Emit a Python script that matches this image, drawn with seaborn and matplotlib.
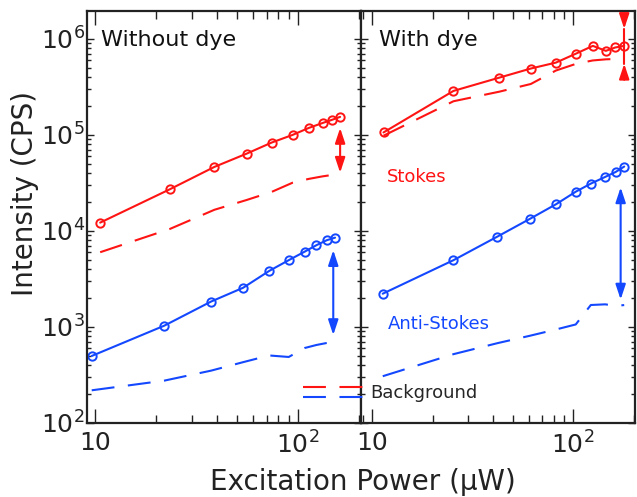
import numpy as np
import pandas as pd
import matplotlib
matplotlib.use("Agg")
import matplotlib.pyplot as plt
import seaborn as sns
from matplotlib.lines import Line2D
from matplotlib.legend_handler import HandlerBase
from matplotlib.ticker import FixedLocator, FixedFormatter, NullFormatter, LogLocator

# ---------------- data ----------------
panel_titles = ["Without dye", "With dye"]

# Without dye
left_red_x = [10.6, 23.4, 38.7, 55.8, 74.1, 94.0, 112.7, 132.0, 147.5, 161.0]
left_red_y = [12200, 27200, 46400, 63800, 83200, 100000, 118000, 133000, 144000, 154000]
left_red_bg = [6000, 10500, 16600, 21000, 25500, 31800, 34800, 37000, 38300, 40400]

left_blue_x = [9.63, 21.9, 37.3, 53.6, 72.0, 89.9, 107.8, 123.0, 138.3, 152.0]
left_blue_y = [499, 1030, 1840, 2560, 3830, 4960, 6090, 7100, 8000, 8510]
left_blue_bg = [219, 276, 351, 430, 505, 487, 604, 649, 681, 698]

# With dye
right_red_x = [11.4, 25.4, 43.0, 61.6, 82.1, 103.5, 125.3, 145.4, 161.9, 179.4]
right_red_y = [106000, 287000, 395000, 491000, 566000, 703000, 845000, 750000, 813000, 845000]
right_red_bg = [98000, 224000, 282000, 339000, 468000, 550000, 596000, 612000, 617000, 620000]

right_blue_x = [11.3, 25.4, 42.0, 61.1, 82.2, 103.0, 122.4, 144.3, 163.0, 179.4]
right_blue_y = [2220, 4960, 8730, 13400, 18970, 25600, 31100, 36500, 41200, 46800]
right_blue_bg = [307, 521, 678, 811, 942, 1062, 1693, 1720, 1660, 1690]

x_ticks = [10, 100]
x_tick_labels = ["10", r"$10^2$"]
y_ticks = [1e2, 1e3, 1e4, 1e5, 1e6]
y_tick_labels = [r"$10^2$", r"$10^3$", r"$10^4$", r"$10^5$", r"$10^6$"]

RED = "#FF1414"
BLUE = "#1448FF"
DASH = (0, (11, 6.5))

# ---------------- style ----------------
sns.set_style("ticks")
plt.rcParams["font.family"] = ["DejaVu Sans"]
plt.rcParams["mathtext.fontset"] = "dejavusans"

fig = plt.figure(figsize=(6.37, 4.97), dpi=100)
W, H = 637, 497
ax1 = fig.add_axes([87 / W, 1 - 423 / H, 274 / W, 412 / H])
ax2 = fig.add_axes([361 / W, 1 - 423 / H, 274 / W, 412 / H])

def series_df(x, y):
    return pd.DataFrame({"P": x, "I": y})

def draw(ax, rx, ry, rbg, bx, by, bbg):
    sns.lineplot(data=series_df(rx, rbg), x="P", y="I", ax=ax, color=RED,
                 linewidth=1.5, linestyle=DASH, sort=False)
    sns.lineplot(data=series_df(bx, bbg), x="P", y="I", ax=ax, color=BLUE,
                 linewidth=1.5, linestyle=DASH, sort=False)
    sns.lineplot(data=series_df(rx, ry), x="P", y="I", ax=ax, color=RED,
                 linewidth=1.5, marker="o", markersize=6, markerfacecolor="none",
                 markeredgecolor=RED, markeredgewidth=1.4, sort=False)
    sns.lineplot(data=series_df(bx, by), x="P", y="I", ax=ax, color=BLUE,
                 linewidth=1.5, marker="o", markersize=6, markerfacecolor="none",
                 markeredgecolor=BLUE, markeredgewidth=1.4, sort=False)

draw(ax1, left_red_x, left_red_y, left_red_bg, left_blue_x, left_blue_y, left_blue_bg)
draw(ax2, right_red_x, right_red_y, right_red_bg, right_blue_x, right_blue_y, right_blue_bg)

for ax, xl in ((ax1, (9.13, 204)), (ax2, (8.81, 203))):
    ax.set_xscale("log")
    ax.set_yscale("log")
    ax.set_xlim(*xl)
    ax.set_ylim(1e2, 10 ** 6.29)
    ax.set_xlabel("")
    ax.set_ylabel("")
    ax.xaxis.set_major_locator(FixedLocator(x_ticks))
    ax.xaxis.set_major_formatter(FixedFormatter(x_tick_labels))
    ax.xaxis.set_minor_locator(LogLocator(base=10, subs=np.arange(2, 10)))
    ax.xaxis.set_minor_formatter(NullFormatter())
    ax.yaxis.set_major_locator(FixedLocator(y_ticks))
    ax.yaxis.set_minor_locator(LogLocator(base=10, subs=np.arange(2, 10), numticks=20))
    ax.yaxis.set_minor_formatter(NullFormatter())
    ax.tick_params(which="both", direction="in", top=True, right=True,
                   width=1.0, color="#222222", labelsize=18, labelcolor="#222222")
    ax.tick_params(axis="x", which="major", length=10, pad=6)
    ax.tick_params(axis="x", which="minor", length=6)
    ax.tick_params(axis="y", which="major", length=5, pad=1.5)
    ax.tick_params(axis="y", which="minor", length=2.8)
    for s in ax.spines.values():
        s.set_linewidth(1.6)
        s.set_color("#222222")
        s.set_visible(True)

ax1.yaxis.set_major_formatter(FixedFormatter(y_tick_labels))
ax2.yaxis.set_major_formatter(NullFormatter())

# panel titles and labels
ax1.text(0.051, 0.915, panel_titles[0], transform=ax1.transAxes, fontsize=16,
         color="#111111", va="baseline", ha="left")
ax2.text(0.067, 0.915, panel_titles[1], transform=ax2.transAxes, fontsize=16,
         color="#111111", va="baseline", ha="left")
ax2.text(0.096, 0.586, "Stokes", transform=ax2.transAxes, fontsize=13,
         color=RED, va="baseline", ha="left")
ax2.text(0.0996, 0.227, "Anti-Stokes", transform=ax2.transAxes, fontsize=13,
         color=BLUE, va="baseline", ha="left")

fig.text(33 / W, 1 - 194 / H, "Intensity (CPS)", rotation=90, rotation_mode="anchor",
         ha="center", va="baseline", fontsize=20, color="#222222")
fig.text(362.5 / W, 1 - 490 / H, "Excitation Power (\u03bcW)", ha="center",
         va="baseline", fontsize=20, color="#222222")

# ---------------- arrows (signal vs background) ----------------
def dbl_arrow(ax, x, y_sig, y_bg, color, shrink_sig, shrink_bg):
    ax.annotate("", xy=(x, y_bg), xytext=(x, y_sig),
                arrowprops=dict(arrowstyle="<|-|>,head_length=0.9,head_width=0.3",
                                color=color, lw=1.5, shrinkA=shrink_sig,
                                shrinkB=shrink_bg, mutation_scale=10))

dbl_arrow(ax1, left_red_x[-1], left_red_y[-1], left_red_bg[-1], RED, 8, 0)
dbl_arrow(ax1, left_blue_x[-1] * 0.98, left_blue_y[-1], left_blue_bg[-1], BLUE, 9, 5)
dbl_arrow(ax2, right_blue_x[-1] * 0.96, right_blue_y[-1], right_blue_bg[-1], BLUE, 15, 4)

# right-panel red: too short, heads drawn outside pointing inward
xr = right_red_x[-1]
ys, yb = right_red_y[-1], right_red_bg[-1]
dec_px = 96.0  # pixels per decade on the y axis
top_tip = ys * 10 ** (17 / dec_px)
bot_tip = yb * 10 ** (-5 / dec_px)
hp = dict(arrowstyle="-|>,head_length=0.9,head_width=0.3", color=RED, lw=1.5,
          shrinkA=0, shrinkB=0, mutation_scale=10)
ax2.annotate("", xy=(xr, top_tip), xytext=(xr, ys * 10 ** (30 / dec_px)), arrowprops=hp)
ax2.annotate("", xy=(xr, bot_tip), xytext=(xr, yb * 10 ** (-21 / dec_px)), arrowprops=hp)
ax2.plot([xr, xr], [top_tip, bot_tip], color=RED, lw=1.5)

# ---------------- "Background" legend with stacked dashed lines ----------------
class StackedLines(HandlerBase):
    def create_artists(self, legend, orig_handle, xdescent, ydescent, width,
                       height, fontsize, trans):
        arts = []
        yc = -ydescent + height / 2
        for i, h in enumerate(orig_handle):
            y = yc + (3.6 if i == 0 else -3.6)
            ln = Line2D([-xdescent, -xdescent + width], [y, y], color=h.get_color(),
                        linestyle=DASH, linewidth=h.get_linewidth())
            ln.set_transform(trans)
            arts.append(ln)
        return arts

h_red = Line2D([], [], color=RED, lw=1.5)
h_blue = Line2D([], [], color=BLUE, lw=1.5)
fig.legend([(h_red, h_blue)], ["Background"], handler_map={tuple: StackedLines()},
           loc="center left", bbox_to_anchor=(303 / W, 1 - 393 / H), frameon=False,
           fontsize=13, handlelength=3.6, handletextpad=0.15, borderpad=0,
           borderaxespad=0)

fig.savefig("out.png", dpi=100)
